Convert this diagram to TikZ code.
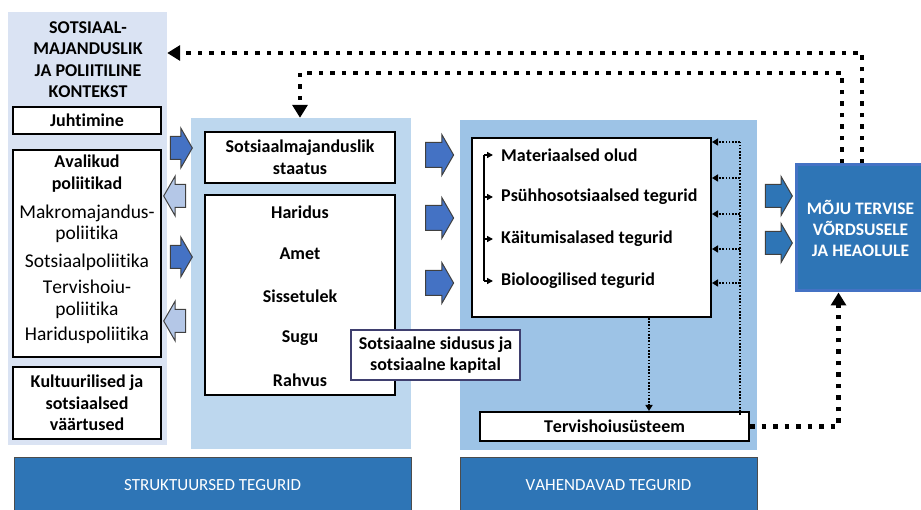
\documentclass[tikz,border=0pt]{standalone}
\usepackage{fontspec}
\setmainfont{Carlito}[Kerning=Off,RawFeature={-liga;-clig;-rlig;-dlig;-calt}]
\usetikzlibrary{arrows.meta,calc,positioning,shapes.arrows}
\definecolor{contextbg}{HTML}{DAE3F3}
\definecolor{structbg}{HTML}{BDD7EE}
\definecolor{mediatbg}{HTML}{9DC3E6}
\definecolor{bannerblue}{HTML}{2E75B6}
\definecolor{arrowdark}{HTML}{4472C4}
\definecolor{arrowlight}{HTML}{B4C7E7}
\definecolor{cohesionline}{HTML}{3F3F6F}
\newcommand{\figfont}{\fontsize{18}{21.5}\selectfont}
\tikzset{
  panel/.style={draw=none,inner sep=0pt},
  factor box/.style={draw=black,fill=white,line width=2pt,inner sep=0pt,
    align=center,font=\figfont\bfseries},
  plain text/.style={inner sep=0pt,align=center,
    font=\fontsize{19.5}{21.5}\selectfont},
  bold text/.style={inner sep=0pt,align=center,font=\figfont\bfseries},
  banner/.style={draw=black!70,fill=bannerblue,line width=1pt,inner sep=0pt,
    text=white,font=\fontsize{17}{20}\selectfont},
  fat arrow/.style={single arrow,draw=black!75,line width=1pt,
    inner xsep=0pt,inner ysep=11pt,minimum height=22pt,
    single arrow head extend=8.5pt,single arrow tip angle=120},
  thin dots/.style={line width=2pt,dash pattern=on 1.6pt off 1.6pt},
  thick dots/.style={line width=4.5pt,dash pattern=on 4.5pt off 7pt},
  thin tip/.style={-{Triangle[length=6pt,width=7pt]}},
  thick tip/.style={-{Triangle[length=13pt,width=15pt]}}
}

\begin{document}
\begin{tikzpicture}[x=1pt,y=-1pt]
  \useasboundingbox (0,0) rectangle (921,510);
  % panels
  \node[panel,fill=contextbg,minimum width=159pt,minimum height=433pt]
    (context) at (87.5,228.5) {};
  \node[panel,fill=structbg,minimum width=220pt,minimum height=331pt]
    (structural) at (301,283.5) {};
  \node[panel,fill=mediatbg,minimum width=297pt,minimum height=330pt]
    (mediating) at (608.5,285) {};
  \node[banner,minimum width=397pt,minimum height=57pt]
    (structbanner) at (212.5,485.5) {STRUKTUURSED TEGURID};
  \node[banner,minimum width=297pt,minimum height=57pt]
    (mediatbanner) at (608.5,485.5) {VAHENDAVAD TEGURID};
  \node[draw=arrowdark,fill=bannerblue,line width=3pt,inner sep=0pt,
    minimum width=129pt,minimum height=126pt,align=center,text=white,
    font=\fontsize{17.5}{21}\selectfont\bfseries]
    (impact) at (860.5,228) {MÕJU TERVISE\\VÕRDSUSELE\\JA HEAOLULE};

  % context
  \node[bold text] (contexttitle) at (88,59.5)
    {SOTSIAAL-\\MAJANDUSLIK\\JA POLIITILINE\\KONTEKST};
  \node[factor box,minimum width=148pt,minimum height=27pt]
    (governance) at (87,120.5) {Juhtimine};
  \node[factor box,minimum width=148pt,minimum height=207pt]
    (policy) at (87,253.5) {};
  \node[bold text] (policytitle) at (87,173.5) {Avalikud\\poliitikad};
  \node[plain text] (policylist) at (87,274.5)
    {Makromajandus-\\poliitika\\[6pt]Sotsiaalpoliitika\\[5pt]Tervishoiu-\\poliitika\\[4pt]Hariduspoliitika};
  \node[factor box,minimum width=148pt,minimum height=72pt]
    (culture) at (87,403) {Kultuurilised ja\\sotsiaalsed\\väärtused};

  % structural determinants
  \node[factor box,minimum width=190pt,minimum height=51pt]
    (position) at (300,157.5) {Sotsiaalmajanduslik\\staatus};
  \node[factor box,minimum width=190pt,minimum height=200pt]
    (stratifier) at (300,295) {};
  \foreach \w [count=\i] in {Haridus,Amet,Sissetulek,Sugu,Rahvus}
    \node[bold text] (stratum\i) at (300,170+42*\i) {\w};
  \node[factor box,draw=cohesionline,line width=1.5pt,minimum width=169pt,
    minimum height=50pt] (cohesion) at (435.5,355)
    {Sotsiaalne sidusus ja\\sotsiaalne kapital};

  % intermediary determinants
  \node[factor box,minimum width=239pt,minimum height=179pt]
    (mediator) at (591.5,227.5) {};
  \foreach \w [count=\i] in {Materiaalsed olud,Psühhosotsiaalsed tegurid,
      Käitumisalased tegurid,Bioloogilised tegurid}
    \node[bold text,anchor=west] (item\i) at (501,113+42*\i) {\w};
  \node[factor box,minimum width=269pt,minimum height=29pt]
    (healthsys) at (614.5,426.5) {Tervishoiusüsteem};

  % bracket
  \coordinate (spine) at (484,0);
  \draw[line width=1.8pt] (item1.west -| spine) -- (item4.west -| spine);
  \foreach \i in {1,...,4}
    \draw[line width=1.5pt,-{Triangle[length=6pt,width=6pt]}]
      (item\i.west -| spine) -- ([xshift=-8pt]item\i.west);

  % block arrows
  \node[fat arrow,fill=arrowdark] (push1) at (178,148) {};
  \node[fat arrow,fill=arrowlight,shape border rotate=180] (pull1) at (178,196) {};
  \node[fat arrow,fill=arrowdark] (push2) at (178,257) {};
  \node[fat arrow,fill=arrowlight,shape border rotate=180] (pull2) at (178,321) {};
  \foreach \y [count=\i] in {155,218,283}
    \node[fat arrow,fill=arrowdark,minimum height=28pt,inner ysep=12pt,
      single arrow head extend=8pt] (middle\i) at (436,\y) {};
  \foreach \y [count=\i] in {196,243}
    \node[fat arrow,fill=bannerblue,minimum height=27pt,inner ysep=11pt,
      single arrow head extend=8pt] (outcome\i) at (775.5,\y) {};

  % thin feedback lines
  \coordinate (rail) at (740,142);
  \coordinate (drop) at (649,0);
  \draw[thin dots] ([yshift=-4pt]healthsys.north -| rail) -- (rail);
  \foreach \y in {142,178,214,249,283}
    \draw[thin dots,thin tip] (rail |- 0,\y) -- (mediator.east |- 0,\y);
  \draw[thin dots,thin tip] (mediator.south -| drop) -- (healthsys.north -| drop);

  % thick feedback lines
  \coordinate (status drop) at (300,73);
  \draw[thick dots,thick tip] ([xshift=1.5pt]impact.north)
    |- (context.east |- 0,53);
  \draw[thick dots,thick tip] ([xshift=-18.5pt]impact.north)
    |- (status drop) -- (structural.north -| status drop);
  \draw[thick dots,thick tip] (healthsys.east)
    -| ([xshift=-22pt]impact.south);
\end{tikzpicture}
\end{document}
